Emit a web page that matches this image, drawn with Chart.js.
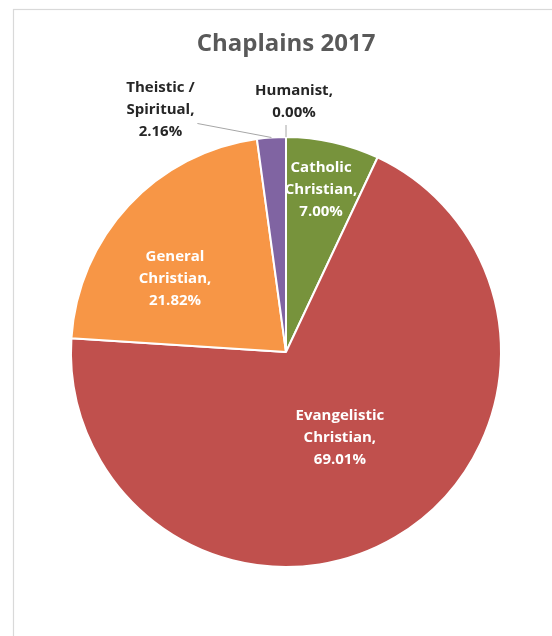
<!DOCTYPE html>
<html>
<head>
<meta charset="utf-8">
<title>Chaplains 2017</title>
<script src="https://cdn.jsdelivr.net/npm/chart.js"></script>
<style>
  body { margin: 0; background: #fff; }
  canvas { display: block; }
</style>
</head>
<body>
<canvas id="pie-chart" width="552" height="636"></canvas>
<script>
var CHART = document.getElementById("pie-chart");

// slice names (one entry per text line) and their shares in %
var categories = [["Humanist"], ["Catholic", "Christian"], ["Evangelistic", "Christian"], ["General", "Christian"], ["Theistic /", "Spiritual"]];
var shares = [0.00, 7.00, 69.01, 21.82, 2.16];
var sliceColors = ["#4F81BD", "#77933C", "#C0504D", "#F79646", "#8064A2"];

// label placement: inside labels sit along the slice (frac of radius, turn in degrees),
// outside labels hang off a short leader line from the rim
var labelSpots = [
  {outside: true, lineX: 0, lineY: -12, textX: 8, textY: -23},
  {frac: 0.772, turn: -0.4},
  {frac: 0.472, turn: -1.5},
  {frac: 0.618, turn: -9.6},
  {outside: true, lineX: -74, lineY: -14, textX: -37, textY: -13.5}
];

var sliceLabels = {
  id: "sliceLabels",
  beforeDraw: function(chart) {
    var ctx = chart.ctx;
    ctx.save();
    ctx.strokeStyle = "#d9d9d9";
    ctx.lineWidth = 1.2;
    ctx.strokeRect(13.5, 9.5, 700, 800);
    ctx.restore();
  },
  afterDatasetsDraw: function(chart) {
    var ctx = chart.ctx;
    var arcs = chart.getDatasetMeta(0).data;
    ctx.save();
    ctx.font = "bold 15px 'Open Sans'";
    ctx.textAlign = "center";
    ctx.textBaseline = "middle";
    arcs.forEach(function(arc, i) {
      var p = arc.getProps(["x", "y", "startAngle", "endAngle", "outerRadius"], true);
      var mid = (p.startAngle + p.endAngle) / 2;
      var lines = categories[i].slice();
      lines[lines.length - 1] += ",";
      lines.push(shares[i].toFixed(2) + "%");
      var spot = labelSpots[i];
      var cx, cy;
      if (spot.outside) {
        var ex = p.x + Math.cos(mid) * p.outerRadius;
        var ey = p.y + Math.sin(mid) * p.outerRadius;
        var lx = ex + spot.lineX, ly = ey + spot.lineY;
        ctx.strokeStyle = "#a6a6a6";
        ctx.lineWidth = 1;
        ctx.beginPath();
        ctx.moveTo(ex, ey);
        ctx.lineTo(lx, ly);
        ctx.stroke();
        cx = lx + spot.textX;
        cy = ly + spot.textY;
        ctx.fillStyle = "#262626";
      } else {
        var a = mid + spot.turn * Math.PI / 180;
        var d = p.outerRadius * spot.frac;
        cx = p.x + Math.cos(a) * d;
        cy = p.y + Math.sin(a) * d;
        ctx.fillStyle = "#ffffff";
      }
      lines.forEach(function(t, k) {
        ctx.fillText(t, cx, cy + (k - (lines.length - 1) / 2) * 22);
      });
    });
    ctx.restore();
  }
};

var pieChart = new Chart(CHART, {
  type: "pie",
  data: {
    labels: categories.map(function(c) { return c.join(" "); }),
    datasets: [{
      data: shares,
      backgroundColor: sliceColors,
      borderColor: "#ffffff",
      borderWidth: 2
    }]
  },
  options: {
    responsive: false,
    animation: false,
    radius: 215,
    layout: { padding: { left: 30, right: 10, top: 0, bottom: 30.8 } },
    plugins: {
      legend: { display: false },
      tooltip: { enabled: false },
      title: {
        display: true,
        text: "Chaplains 2017",
        color: "#595959",
        font: { family: "'Open Sans'", size: 24, weight: "bold", lineHeight: 1.2 },
        padding: { top: 30, bottom: 40 }
      }
    }
  },
  plugins: [sliceLabels]
});
</script>
</body>
</html>
